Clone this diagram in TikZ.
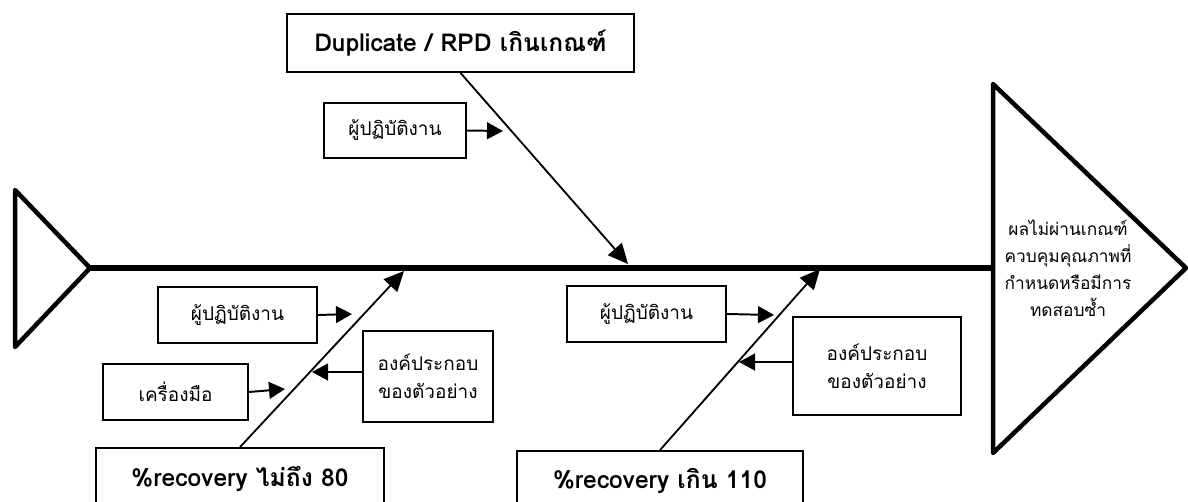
\documentclass[tikz,border=0pt]{standalone}
\usepackage{fontspec}
\setmainfont[Script=Thai]{Loma}
\usepackage{tikz}
\usetikzlibrary{positioning,arrows.meta,calc}
\definecolor{ink}{RGB}{0,0,0}
\newcommand{\pxu}{0.25mm}
\tikzset{
  cbox/.style={draw=ink, rectangle, align=center, inner sep=2pt, text=ink,
    font=\fontsize{13.5}{20}\selectfont, line width=1.3pt},
  probbox/.style={cbox, font=\bfseries\fontsize{17.5}{22}\selectfont},
  spine/.style={draw=ink, line width=3.8pt},
  fin/.style={draw=ink, line width=3.2pt, line join=round},
  bone/.style={-{Triangle[length=5mm,width=4.6mm]}, line width=1.3pt, draw=ink},
  cause/.style={-{Triangle[length=4mm,width=4.2mm]}, line width=1.4pt, draw=ink},
}
\begin{document}
\begin{tikzpicture}[x=0.025cm, y=-0.025cm]
\clip (0,0) rectangle (1188,501);

% spine, tail and head
\coordinate (tail) at (90,268);
\coordinate (neck) at (993,268);
\draw[fin] (15,190) -- (tail) -- (15,347) -- cycle;
\draw[fin] (993,84) -- (1186,268) -- (993,453) -- cycle;
\draw[spine] (tail) -- (neck);
\node[align=center, text=ink, font=\fontsize{12.3}{19.2}\selectfont] (outcome) at (1068,268)
  {ผลไม่ผ่านเกณฑ์\\ควบคุมคุณภาพที่\\กำหนดหรือมีการ\\ทดสอบซ้ำ};

% upper bone
\node[probbox, minimum width=347*\pxu, minimum height=58*\pxu] (dup) at (460.5,43)
  {Duplicate / RPD เกินเกณฑ์};
\node[cbox, minimum width=142*\pxu, minimum height=55*\pxu] (opA) at (395,130.5) {ผู้ปฏิบัติงาน};
\coordinate (dupT) at (628,264);
\coordinate (opAT) at (503,131);
\draw[bone] (dup.south) -- (dupT);
\draw[cause] (opA.east) -- (opAT);

% lower left bone
\node[probbox, minimum width=288*\pxu, minimum height=62*\pxu] (recLow) at (240,479)
  {\%recovery ไม่ถึง 80};
\node[cbox, minimum width=159*\pxu, minimum height=56*\pxu] (opB) at (237.5,315) {ผู้ปฏิบัติงาน};
\node[cbox, minimum width=145*\pxu, minimum height=56*\pxu] (tool) at (175.5,392) {เครื่องมือ};
\node[cbox, minimum width=130*\pxu, minimum height=91*\pxu] (compA) at (428,376.5)
  {องค์ประกอบ\\ของตัวอย่าง};
\coordinate (recLowT) at (404,271);
\coordinate (opBT) at (352,314);
\coordinate (toolT) at (285,389);
\coordinate (compAT) at (312,372);
\draw[bone] (recLow.north) -- (recLowT);
\draw[cause] (opB.east) -- (opBT);
\draw[cause] (tool.east) -- (toolT);
\draw[cause] (compA.west |- compAT) -- (compAT);

% lower right bone
\node[probbox, minimum width=286*\pxu, minimum height=60*\pxu] (recHigh) at (660,481)
  {\%recovery เกิน 110};
\node[cbox, minimum width=159*\pxu, minimum height=56*\pxu] (opC) at (646.5,314) {ผู้ปฏิบัติงาน};
\node[cbox, minimum width=168*\pxu, minimum height=98*\pxu] (compB) at (877,366)
  {องค์ประกอบ\\ของตัวอย่าง};
\coordinate (recHighT) at (820,269);
\coordinate (opCT) at (774,315);
\coordinate (compBT) at (739,362);
\draw[bone] (recHigh.north) -- (recHighT);
\draw[cause] (opC.east) -- (opCT);
\draw[cause] (compB.west |- compBT) -- (compBT);
\end{tikzpicture}
\end{document}
